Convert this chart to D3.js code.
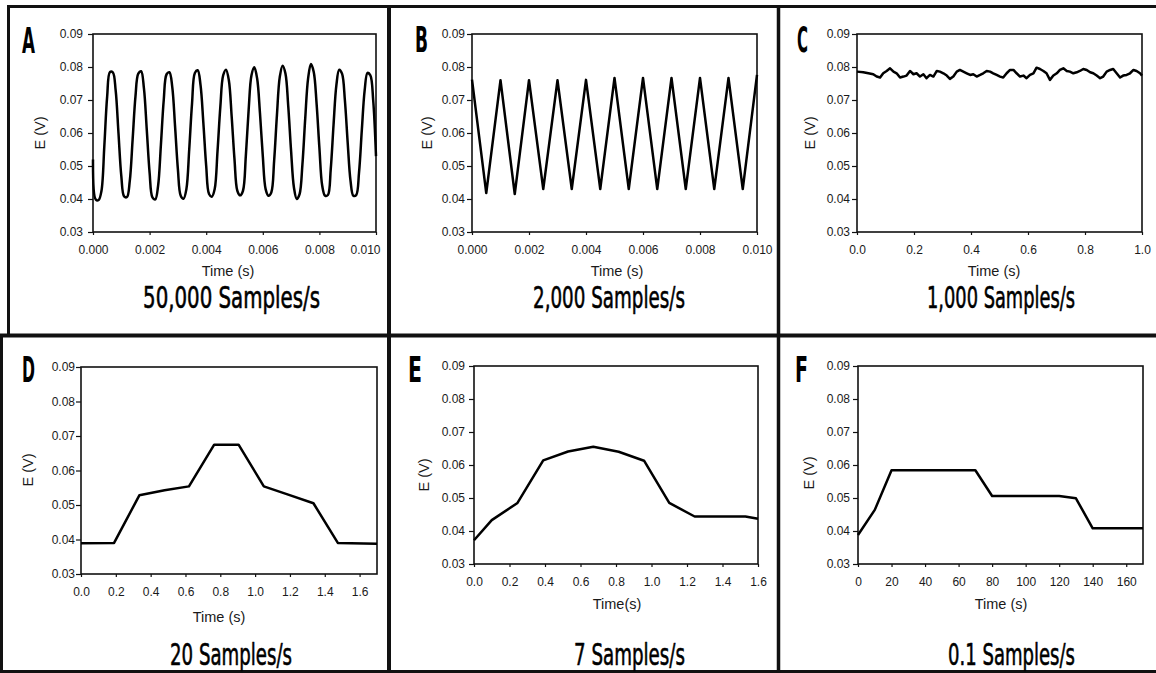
<!DOCTYPE html>
<html>
<head>
<meta charset="utf-8">
<script src="https://cdn.jsdelivr.net/npm/d3@7"></script>
<style>
  html, body { margin: 0; padding: 0; background: #fff; }
  svg { display: block; }
</style>
</head>
<body>
<svg id="chart" width="1156" height="673"></svg>
<script>
// ---------------- DATA ----------------
// Panel A: 50,000 Samples/s (values read every 0.0001 s)
const aSamplePeriod = 0.0001;
const aValues = [
  0.0520, 0.0398, 0.0397, 0.0425, 0.0560, 0.0710, 0.0785, 0.0784, 0.0730, 0.0600,
  0.0470, 0.0408, 0.0406, 0.0455, 0.0580, 0.0710, 0.0780, 0.0787, 0.0735, 0.0610,
  0.0480, 0.0405, 0.0399, 0.0440, 0.0565, 0.0700, 0.0778, 0.0784, 0.0740, 0.0620,
  0.0490, 0.0410, 0.0401, 0.0430, 0.0550, 0.0690, 0.0782, 0.0790, 0.0745, 0.0630,
  0.0500, 0.0415, 0.0407, 0.0430, 0.0545, 0.0680, 0.0775, 0.0792, 0.0760, 0.0650,
  0.0520, 0.0425, 0.0411, 0.0425, 0.0530, 0.0670, 0.0775, 0.0799, 0.0765, 0.0660,
  0.0530, 0.0430, 0.0410, 0.0420, 0.0515, 0.0655, 0.0770, 0.0804, 0.0780, 0.0680,
  0.0545, 0.0435, 0.0400, 0.0415, 0.0505, 0.0645, 0.0765, 0.0809, 0.0785, 0.0690,
  0.0555, 0.0440, 0.0410, 0.0412, 0.0490, 0.0625, 0.0745, 0.0792, 0.0780, 0.0700,
  0.0570, 0.0455, 0.0410, 0.0412, 0.0480, 0.0610, 0.0730, 0.0782, 0.0775, 0.0700,
  0.0530
];

// Panel B: 2,000 Samples/s (one sample every 0.0005 s)
const bSamplePeriod = 0.0005;
const bValues = [
  0.0762, 0.0418, 0.0760, 0.0415, 0.0760, 0.0430, 0.0760, 0.0430, 0.0761, 0.0430,
  0.0767, 0.0430, 0.0767, 0.0430, 0.0767, 0.0430, 0.0767, 0.0430, 0.0767, 0.0430,
  0.0776
];

// Panel C: 1,000 Samples/s
const cTimes = [
  0.000, 0.022, 0.040, 0.057, 0.069, 0.081, 0.092, 0.104, 0.116, 0.128,
  0.139, 0.151, 0.163, 0.174, 0.186, 0.198, 0.209, 0.221, 0.233, 0.244,
  0.256, 0.268, 0.280, 0.291, 0.303, 0.315, 0.326, 0.338, 0.350, 0.361,
  0.373, 0.385, 0.397, 0.408, 0.420, 0.432, 0.443, 0.455, 0.467, 0.478,
  0.490, 0.502, 0.513, 0.525, 0.537, 0.549, 0.560, 0.572, 0.584, 0.595,
  0.607, 0.619, 0.630, 0.642, 0.654, 0.665, 0.677, 0.689, 0.701, 0.712,
  0.724, 0.736, 0.747, 0.759, 0.771, 0.782, 0.794, 0.806, 0.818, 0.829,
  0.841, 0.853, 0.864, 0.876, 0.888, 0.899, 0.911, 0.923, 0.934, 0.946,
  0.958, 0.970, 0.981, 0.993, 1.000
];
const cValues = [
  0.0786, 0.0784, 0.0781, 0.0778, 0.0771, 0.0768, 0.0781, 0.0788, 0.0796, 0.0786,
  0.0781, 0.0768, 0.0771, 0.0774, 0.0788, 0.0778, 0.0781, 0.0771, 0.0778, 0.0766,
  0.0776, 0.0771, 0.0788, 0.0786, 0.0781, 0.0774, 0.0764, 0.0771, 0.0786, 0.0791,
  0.0786, 0.0781, 0.0776, 0.0778, 0.0771, 0.0776, 0.0781, 0.0788, 0.0786, 0.0781,
  0.0776, 0.0771, 0.0768, 0.0781, 0.0791, 0.0791, 0.0781, 0.0771, 0.0774, 0.0766,
  0.0776, 0.0781, 0.0798, 0.0794, 0.0788, 0.0781, 0.0761, 0.0774, 0.0781, 0.0791,
  0.0796, 0.0788, 0.0786, 0.0781, 0.0784, 0.0788, 0.0794, 0.0791, 0.0784, 0.0781,
  0.0774, 0.0766, 0.0771, 0.0786, 0.0791, 0.0794, 0.0781, 0.0768, 0.0774, 0.0776,
  0.0781, 0.0791, 0.0788, 0.0781, 0.0774
];

// Panel D: 20 Samples/s
const dTimes  = [0, 0.19, 0.335, 0.48, 0.62, 0.765, 0.905, 1.05, 1.19, 1.335, 1.475, 1.7];
const dValues = [0.0389, 0.0390, 0.0528, 0.0543, 0.0554, 0.0675, 0.0675, 0.0554, 0.0530, 0.0505, 0.0390, 0.0388];

// Panel E: 7 Samples/s
const eTimes  = [0, 0.1, 0.245, 0.39, 0.53, 0.672, 0.815, 0.958, 1.1, 1.243, 1.386, 1.529, 1.6];
const eValues = [0.0372, 0.0433, 0.0485, 0.0614, 0.0641, 0.0655, 0.0640, 0.0613, 0.0485, 0.0444, 0.0444, 0.0444, 0.0437];

// Panel F: 0.1 Samples/s (one sample every 10 s)
const fSamplePeriod = 10;
const fValues = [0.0388, 0.0464, 0.0584, 0.0584, 0.0584, 0.0584, 0.0584, 0.0584, 0.0506,
                 0.0506, 0.0506, 0.0506, 0.0506, 0.0499, 0.0408, 0.0408, 0.0408, 0.0408];

// Tick values
const yTicks   = [0.03, 0.04, 0.05, 0.06, 0.07, 0.08, 0.09];
const msTicks  = [0, 0.002, 0.004, 0.006, 0.008, 0.010];
const cTicks   = [0, 0.2, 0.4, 0.6, 0.8, 1.0];
const deTicks  = [0, 0.2, 0.4, 0.6, 0.8, 1.0, 1.2, 1.4, 1.6];
const fTicks   = [0, 20, 40, 60, 80, 100, 120, 140, 160];

// Labels
const panelLetters = ["A", "B", "C", "D", "E", "F"];
const rateLabels = ["50,000 Samples/s", "2,000 Samples/s", "1,000 Samples/s", "20 Samples/s", "7 Samples/s", "0.1 Samples/s"];
const xTitles = ["Time (s)", "Time (s)", "Time (s)", "Time (s)", "Time(s)", "Time (s)"];
const yTitle = "E (V)";

// ---------------- BUILD ----------------
const zip = (ts, vs) => vs.map((v, i) => ({ t: ts[i], v }));
const sampled = (period, vs) => vs.map((v, i) => ({ t: i * period, v }));

const series = [
  sampled(aSamplePeriod, aValues),
  sampled(bSamplePeriod, bValues),
  zip(cTimes, cValues),
  zip(dTimes, dValues),
  zip(eTimes, eValues),
  sampled(fSamplePeriod, fValues)
];

const layout = [
  { plot: [93, 34, 376, 232],  xDomain: [0, 0.010], ticks: msTicks, fmt: d3.format(".3f"), curve: d3.curveCatmullRom, lastShift: -11,
    letter: { x: 22, y: 53, len: 13 }, sub: { cx: 231.5, y: 308, len: 177 }, ylab: { cx: 40, cy: 133 }, xlab: { cx: 228, y: 276 }, yPad: 5 },
  { plot: [472, 34, 757, 232], xDomain: [0, 0.010], ticks: msTicks, fmt: d3.format(".3f"), curve: d3.curveLinear, lastShift: 0,
    letter: { x: 415, y: 52, len: 13 }, sub: { cx: 609, y: 308, len: 152 }, ylab: { cx: 427, cy: 133 }, xlab: { cx: 617, y: 276 }, yPad: 2 },
  { plot: [857, 34, 1142, 232], xDomain: [0, 1.0], ticks: cTicks, fmt: d3.format(".1f"), curve: d3.curveLinear, lastShift: 0,
    letter: { x: 797, y: 52, len: 11 }, sub: { cx: 1001, y: 308, len: 148 }, ylab: { cx: 810, cy: 133 }, xlab: { cx: 994, y: 276 }, yPad: 2 },
  { plot: [81, 367, 377, 574], xDomain: [0, 1.7], ticks: deTicks, fmt: d3.format(".1f"), curve: d3.curveLinear, lastShift: 0,
    letter: { x: 22, y: 382, len: 13 }, sub: { cx: 231, y: 665, len: 122 }, ylab: { cx: 28, cy: 470 }, xlab: { cx: 219, y: 622 }, yPad: 1 },
  { plot: [474, 366, 758, 564], xDomain: [0, 1.6], ticks: deTicks, fmt: d3.format(".1f"), curve: d3.curveLinear, lastShift: 0,
    letter: { x: 408, y: 382, len: 14 }, sub: { cx: 629.5, y: 665, len: 111 }, ylab: { cx: 424, cy: 475 }, xlab: { cx: 617, y: 609 }, yPad: 4 },
  { plot: [858, 366, 1143, 564], xDomain: [0, 170], ticks: fTicks, fmt: d3.format("d"), curve: d3.curveLinear, lastShift: 0,
    letter: { x: 795, y: 382, len: 13 }, sub: { cx: 1011.5, y: 665, len: 127 }, ylab: { cx: 809, cy: 473 }, xlab: { cx: 1001, y: 609 }, yPad: 3 }
];

const svg = d3.select("#chart");
const ink = "#111";
const sansFont = "'Liberation Sans', Arial, sans-serif";
const condFont = "'Liberation Sans Narrow', 'DejaVu Sans Condensed', 'Liberation Sans', sans-serif";

// Frame lines
const frame = svg.append("g").attr("stroke", ink).attr("fill", "none");
[
  [7, 6.5, 1156, 6.5, 3],      // top
  [8.5, 5, 8.5, 335, 3],       // left top row
  [0, 335.5, 1156, 335.5, 4],  // middle horizontal
  [1.5, 335, 1.5, 673, 3],     // left bottom row
  [0, 671.5, 1156, 671.5, 3],  // bottom
  [389, 5, 389, 673, 4],       // divider 1
  [778.5, 5, 778.5, 673, 3.5]  // divider 2
].forEach(([x1, y1, x2, y2, w]) => {
  frame.append("line").attr("x1", x1).attr("y1", y1).attr("x2", x2).attr("y2", y2).attr("stroke-width", w);
});

// Condensed text squeezed horizontally to a target width
function squeezedText(parent, txt, cx, baseline, width, size, weight, strokeW) {
  const t = parent.append("text")
    .attr("text-anchor", "middle")
    .style("font-family", condFont).style("font-size", size + "px").style("font-weight", weight)
    .attr("fill", "#000").text(txt);
  if (strokeW) t.attr("stroke", "#000").attr("stroke-width", strokeW).attr("stroke-linejoin", "round");
  const natural = t.node().getComputedTextLength() || width;
  const sx = width / natural;
  t.attr("transform", `translate(${cx},${baseline}) scale(${sx},1)`);
  return t;
}

layout.forEach((L, i) => {
  const [x0, y0, x1, y1] = L.plot;
  const x = d3.scaleLinear().domain(L.xDomain).range([x0, x1]);
  const y = d3.scaleLinear().domain([0.03, 0.09]).range([y1, y0]);
  const g = svg.append("g");

  // plot box
  g.append("rect").attr("x", x0).attr("y", y0).attr("width", x1 - x0).attr("height", y1 - y0)
    .attr("fill", "none").attr("stroke", ink).attr("stroke-width", 1.6);

  // axes
  const yAxis = d3.axisLeft(y).tickValues(yTicks).tickFormat(d3.format(".2f")).tickSize(5).tickPadding(L.yPad);
  const xAxis = d3.axisBottom(x).tickValues(L.ticks).tickFormat(L.fmt).tickSize(3).tickPadding(10);
  const gy = g.append("g").attr("transform", `translate(${x0},0)`).call(yAxis);
  const gx = g.append("g").attr("transform", `translate(0,${y1})`).call(xAxis);
  [gx, gy].forEach(a => {
    a.select(".domain").remove();
    a.selectAll(".tick line").attr("stroke", ink).attr("stroke-width", 1.2);
    a.selectAll(".tick text").attr("fill", "#1a1a1a").style("font-family", sansFont).style("font-size", "12px");
  });
  if (L.lastShift) {
    gx.selectAll(".tick text").filter((d, k, n) => k === n.length - 1).attr("dx", L.lastShift);
  }

  // data line
  const line = d3.line().x(d => x(d.t)).y(d => y(d.v)).curve(L.curve);
  g.append("path").datum(series[i]).attr("d", line)
    .attr("fill", "none").attr("stroke", "#000").attr("stroke-width", 2.5)
    .attr("stroke-linejoin", "round");

  // axis titles
  g.append("text").attr("x", L.xlab.cx).attr("y", L.xlab.y).attr("text-anchor", "middle")
    .style("font-family", sansFont).style("font-size", "14.5px").attr("fill", "#1a1a1a").text(xTitles[i]);
  g.append("text").attr("transform", `translate(${L.ylab.cx + 5},${L.ylab.cy}) rotate(-90)`).attr("text-anchor", "middle")
    .style("font-family", sansFont).style("font-size", "14.5px").attr("fill", "#1a1a1a").text(yTitle);

  // panel letter
  squeezedText(g, panelLetters[i], L.letter.x + L.letter.len / 2, L.letter.y, L.letter.len, 36, "bold", 0);

  // sample-rate caption
  squeezedText(g, rateLabels[i], L.sub.cx, L.sub.y, L.sub.len, 31, "normal", 0.6);
});
</script>
</body>
</html>
